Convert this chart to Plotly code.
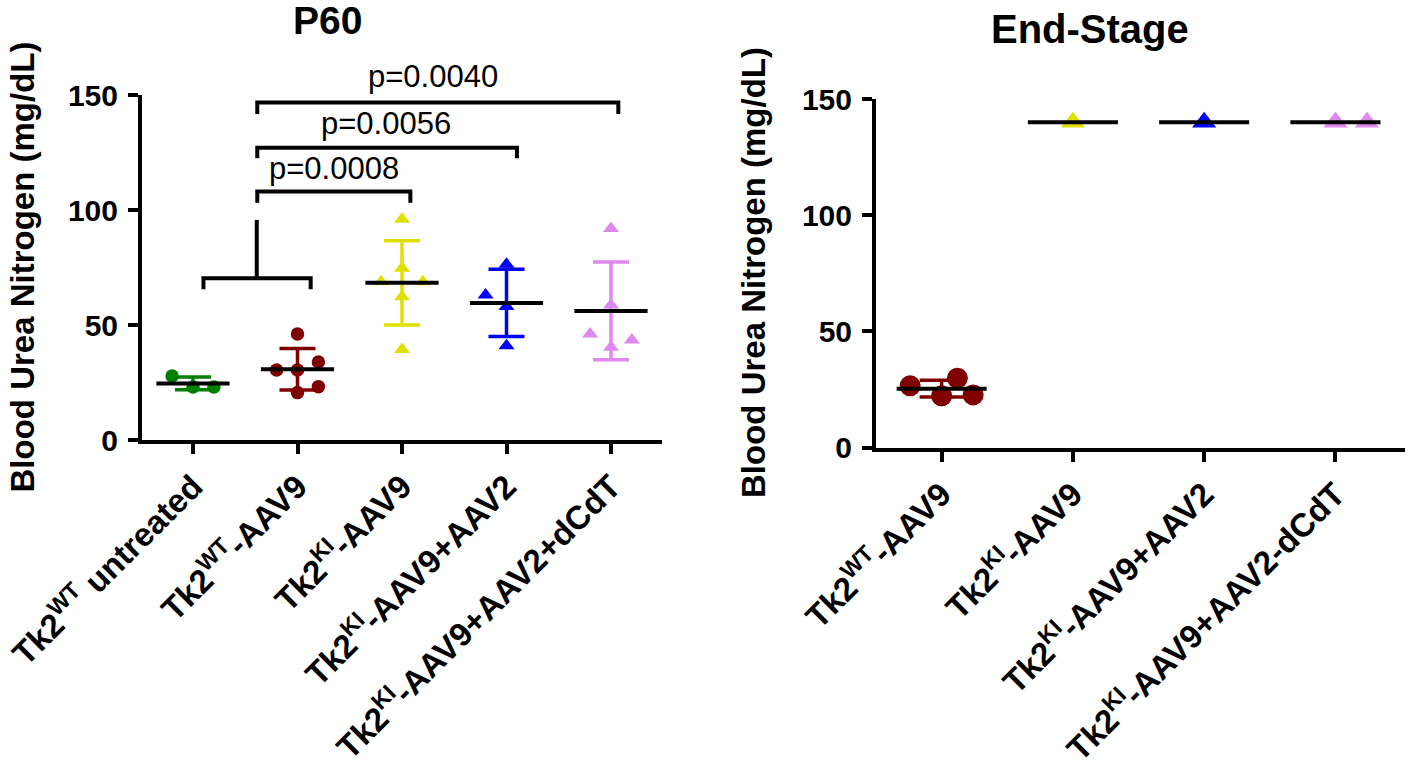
import numpy as np
import plotly.graph_objects as go

W, H = 1409, 767

# ---------------- data: P60 panel ----------------
p60_categories = [
    "Tk2<sup>WT</sup> untreated",
    "Tk2<sup>WT</sup>-AAV9",
    "Tk2<sup>KI</sup>-AAV9",
    "Tk2<sup>KI</sup>-AAV9+AAV2",
    "Tk2<sup>KI</sup>-AAV9+AAV2+dCdT",
]
p60_values = [
    [27.8, 23.0, 23.0],
    [46.1, 30.4, 30.4, 33.9, 23.2, 20.6],
    [96.0, 74.7, 68.8, 68.8, 62.3, 39.4],
    [76.4, 63.0, 58.0, 41.0],
    [92.0, 58.7, 46.1, 43.5, 40.3],
]
p60_pvalues = ["p=0.0008", "p=0.0056", "p=0.0040"]

# ---------------- data: End-Stage panel ----------------
es_categories = [
    "Tk2<sup>WT</sup>-AAV9",
    "Tk2<sup>KI</sup>-AAV9",
    "Tk2<sup>KI</sup>-AAV9+AAV2",
    "Tk2<sup>KI</sup>-AAV9+AAV2-dCdT",
]
es_values = [
    [26.6, 29.9, 22.3, 22.7],
    [140.0],
    [140.0],
    [140.0, 140.0],
]

# ---------------- styling / layout (not data) ----------------
p60_jitter = [
    [-0.2, 0.0, 0.2],
    [0.0, -0.2, 0.0, 0.2, 0.2, 0.0],
    [0.0, 0.0, -0.2, 0.2, 0.0, 0.0],
    [0.0, -0.2, 0.0, 0.0],
    [0.0, 0.0, -0.2, 0.2, 0.0],
]
es_jitter = [
    [-0.24, 0.12, 0.0, 0.24],
    [0.0],
    [0.0],
    [0.0, 0.24],
]
p60_colors = ["#008000", "#800000", "#E0E000", "#0000FF", "#DF88F0"]
p60_symbols = ["circle", "circle", "triangle-up", "triangle-up", "triangle-up"]
es_colors = ["#800000", "#E0E000", "#0000FF", "#DF88F0"]
es_symbols = ["circle", "triangle-up", "triangle-up", "triangle-up"]

FONT = "Arial, Liberation Sans, sans-serif"


def px2paper_x(px):
    return px / W


def px2paper_y(py):
    return 1 - py / H


fig = go.Figure()


def add_group(i, vals, jit, color, symbol, xa, ya, msize, mean_half, cap_px):
    vals = np.asarray(vals, dtype=float)
    xs = i + np.asarray(jit)
    fig.add_trace(go.Scatter(
        x=xs, y=vals, mode="markers", xaxis=xa, yaxis=ya,
        marker=dict(symbol=symbol, size=msize, color=color, line=dict(width=0)),
        showlegend=False, hoverinfo="y"))
    m = float(np.mean(vals))
    sd = float(np.std(vals, ddof=1)) if len(vals) > 1 else 0.0
    if sd > 0:
        fig.add_trace(go.Scatter(
            x=[i], y=[m], mode="markers", xaxis=xa, yaxis=ya,
            marker=dict(size=1, opacity=0),
            error_y=dict(type="data", array=[sd], visible=True,
                         color=color, thickness=3.5, width=cap_px),
            showlegend=False, hoverinfo="skip"))
    fig.add_trace(go.Scatter(
        x=[i - mean_half, i + mean_half], y=[m, m], mode="lines",
        xaxis=xa, yaxis=ya, line=dict(color="black", width=4),
        showlegend=False, hoverinfo="skip"))


for i, vals in enumerate(p60_values):
    add_group(i, vals, p60_jitter[i], p60_colors[i], p60_symbols[i],
              "x", "y", 13.5 if p60_symbols[i] == "circle" else 14, 0.35, 18)

for i, vals in enumerate(es_values):
    add_group(i, vals, es_jitter[i], es_colors[i], es_symbols[i],
              "x2", "y2", 21 if es_symbols[i] == "circle" else 21, 0.343, 22)

axis_common = dict(
    showline=True, linewidth=4, linecolor="black",
    ticks="outside", ticklen=10, tickwidth=4, tickcolor="black",
    showgrid=False, zeroline=False, automargin=False,
    ticklabeloverflow="allow",
)

# left panel: y axis at px 142, x end px 662; y0 at px 440, y150 at px 95
fig.update_layout(
    template="none",
    xaxis=dict(domain=[px2paper_x(142), px2paper_x(662)], range=[-0.488, 4.488],
               tickvals=list(range(len(p60_categories))), ticktext=p60_categories,
               tickangle=-45, anchor="y",
               tickfont=dict(family=FONT, size=33, color="black", weight="bold"),
               **axis_common),
    yaxis=dict(domain=[px2paper_y(440), px2paper_y(95)], range=[0, 150],
               tickvals=[0, 50, 100, 150], anchor="x",
               tickfont=dict(family=FONT, size=30, color="black", weight="bold"),
               ticklabelstandoff=4,
               **axis_common),
    xaxis2=dict(domain=[px2paper_x(876), px2paper_x(1405)], range=[-0.50, 3.53],
                tickvals=list(range(len(es_categories))), ticktext=es_categories,
                tickangle=-45, anchor="y2",
                tickfont=dict(family=FONT, size=33, color="black", weight="bold"),
                **axis_common),
    yaxis2=dict(domain=[px2paper_y(447.7), px2paper_y(99)], range=[0, 150],
                tickvals=[0, 50, 100, 150], anchor="x2",
                tickfont=dict(family=FONT, size=30, color="black", weight="bold"),
                ticklabelstandoff=4,
                **axis_common),
)

# significance brackets on the P60 panel (category units / mg/dL)
shape_line = dict(color="black", width=4)
brackets = [
    (0.615, 2.08, 108.0, 103.2),
    (0.615, 3.10, 127.1, 122.5),
    (0.615, 4.07, 146.7, 141.7),
]
for (x0, x1, yb, ye) in brackets:
    fig.add_shape(type="path", xref="x", yref="y", line=shape_line,
                  path=f"M {x0},{ye} L {x0},{yb} L {x1},{yb} L {x1},{ye}")
# grouping bracket for the two WT groups
fig.add_shape(type="path", xref="x", yref="y", line=shape_line,
              path="M 0.1,65.5 L 0.1,70.3 L 1.126,70.3 L 1.126,65.5")
fig.add_shape(type="path", xref="x", yref="y", line=shape_line,
              path="M 0.61,70.3 L 0.61,95.7")

# p-value labels (pixel positions of the label centres)
p_text_px = [(334, 169), (386, 123.3), (432.8, 76.3)]
for (tx, ty), txt in zip(p_text_px, p60_pvalues):
    fig.add_annotation(x=px2paper_x(tx), y=px2paper_y(ty), xref="paper", yref="paper",
                       text=txt, showarrow=False,
                       xanchor="center", yanchor="middle",
                       font=dict(family=FONT, size=31, color="black"))

# titles
fig.add_annotation(x=px2paper_x(327.5), y=px2paper_y(21), xref="paper", yref="paper",
                   text="P60", showarrow=False, xanchor="center", yanchor="middle",
                   font=dict(family=FONT, size=39, color="black", weight="bold"))
fig.add_annotation(x=px2paper_x(1090), y=px2paper_y(29), xref="paper", yref="paper",
                   text="End-Stage", showarrow=False, xanchor="center", yanchor="middle",
                   font=dict(family=FONT, size=40, color="black", weight="bold"))

# y-axis titles
for cx, cy in [(22, 267.5), (754, 273)]:
    fig.add_annotation(x=px2paper_x(cx), y=px2paper_y(cy), xref="paper", yref="paper",
                       text="Blood Urea Nitrogen (mg/dL)", showarrow=False, textangle=-90,
                       xanchor="center", yanchor="middle",
                       font=dict(family=FONT, size=33, color="black", weight="bold"))

fig.update_layout(
    width=W, height=H,
    margin=dict(l=0, r=0, t=0, b=0, pad=0),
    paper_bgcolor="white", plot_bgcolor="white",
    showlegend=False,
)

fig.write_html(
    "out.html",
    config={"displayModeBar": False},
    post_script="document.body.style.margin='0';document.body.style.overflow='hidden';",
)
